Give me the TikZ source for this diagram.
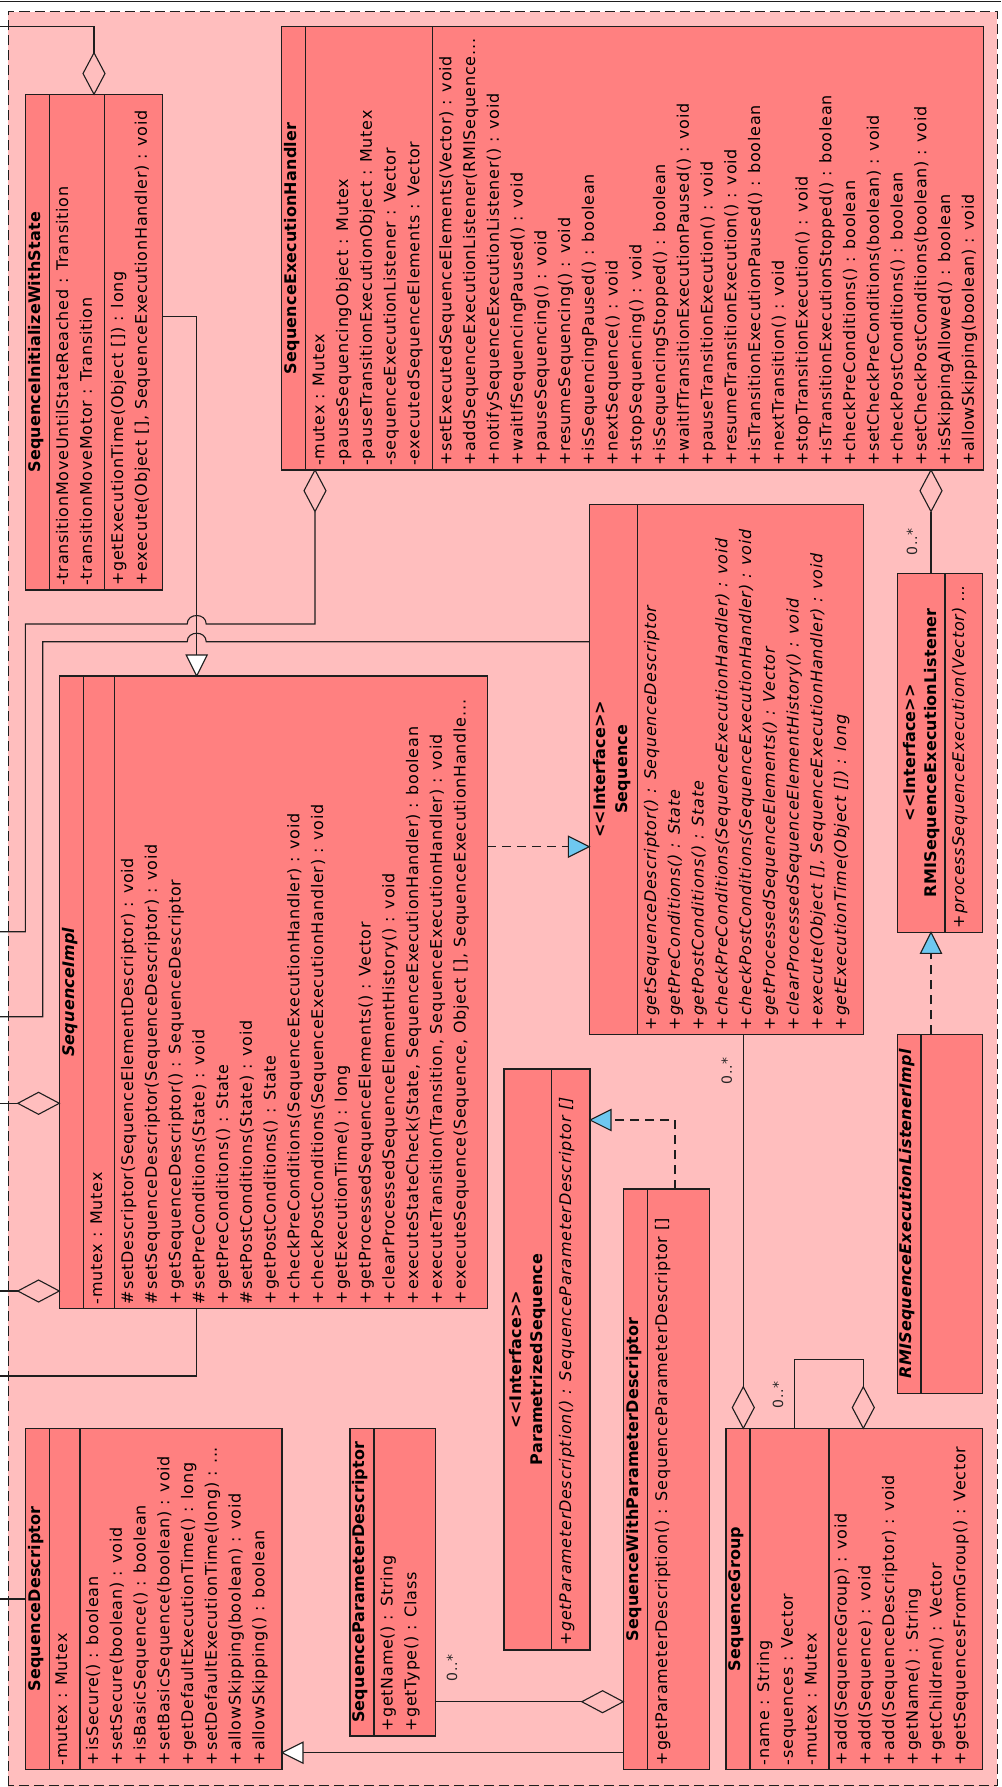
\documentclass[tikz,border=0pt]{standalone}
\usepackage{fontspec}
\setmainfont{DejaVu Sans}[LetterSpace=4.6]
\newfontfamily\namefont{DejaVu Sans}[LetterSpace=1]
\usetikzlibrary{fit}

\definecolor{pagebg}{RGB}{255,190,190}
\definecolor{classfill}{RGB}{255,128,128}
\definecolor{realfill}{RGB}{110,200,240}
\definecolor{inkline}{RGB}{30,30,30}

\newcommand\rowfont{\fontsize{16}{20}\selectfont}
\protected\def\ddd{...}

\tikzset{
  classbox/.style={draw=inkline, fill=classfill, line width=1.2pt, inner sep=0pt, outer sep=0pt},
  crow/.style={rotate=90, anchor=mid west, inner sep=0pt, font=\rowfont},
  ctitle/.style={rotate=90, anchor=mid, inner sep=0pt, font=\rowfont\namefont\bfseries},
  multlabel/.style={rotate=90, anchor=center, inner sep=0pt, font=\fontsize{14}{16}\selectfont, text=black!85},
  conn/.style={draw=inkline, line width=1.1pt},
  realize/.style={conn, dash pattern=on 9pt off 6pt},
  agg/.pic={\filldraw[draw=inkline, fill=pagebg, line width=1.1pt] (0,0) -- (-20.75,-11) -- (-41.5,0) -- (-20.75,11) -- cycle;},
  gen/.pic={\filldraw[draw=inkline, fill=white, line width=1.1pt] (0,0) -- (-21,-10.5) -- (-21,10.5) -- cycle;},
  impl/.pic={\filldraw[draw=inkline, fill=realfill, line width=1.1pt] (0,0) -- (-21,-10.5) -- (-21,10.5) -- cycle;},
}

% class box spanning left/top/right/bottom
\newcommand\umlbox[5]{\node[classbox, fit={(#2,#3) (#4,#5)}] (#1) {};}
% compartment divider at a given x
\newcommand\umldiv[2]{\draw[draw=inkline, line width=1.2pt] (#1.north -| #2,0) -- (#1.south -| #2,0);}
% rows of a compartment: prefix, first row centre x, text start y, extra keys, rows
\newcommand\umlrows[5]{\foreach \t [count=\i from 0] in {#5}{\node[crow, #4] (#1-\i) at ({#2+\i*23.75}, #3) {\t};}}

\begin{document}
\begin{tikzpicture}[x=1pt, y=-1pt]
\useasboundingbox (0,0) rectangle (1001,1787);
\fill[white] (0,0) rectangle (1001,1787);

% package frame
\fill[pagebg] (8.3,11.7) rectangle (997.3,1787);
\draw[inkline, line width=1.3pt, dash pattern=on 10pt off 5pt] (8.3,1785.5) -- (8.3,11.7) -- (997.3,11.7) -- (997.3,1785.5) -- cycle;
\draw[inkline, line width=1.3pt] (0,1.7) -- (1001,1.7);

% ---------- classes ----------
\umlbox{siws}{25.3}{94.3}{162.7}{590}
\umldiv{siws}{49.3}\umldiv{siws}{104.3}

\umlbox{seh}{281.7}{26.7}{983.3}{470}
\umldiv{seh}{305.7}\umldiv{seh}{432.7}

\umlbox{simpl}{59.3}{676}{487.3}{1308.3}
\umldiv{simpl}{83.3}\umldiv{simpl}{114.3}

\umlbox{seq}{589.3}{504.3}{863.3}{1034.3}
\umldiv{seq}{637.3}

\umlbox{rmil}{897.3}{573.3}{982.7}{932.3}
\umldiv{rmil}{945}

\umlbox{rmiimpl}{897.3}{1034.3}{982.7}{1393.3}
\umldiv{rmiimpl}{921}

\umlbox{psq}{504}{1069}{590}{1650}
\umldiv{psq}{551.7}

\umlbox{swpd}{623.3}{1189}{709.3}{1769.3}
\umldiv{swpd}{647.7}

\umlbox{sdesc}{25.3}{1428.3}{282}{1769.3}
\umldiv{sdesc}{49.3}\umldiv{sdesc}{80}

\umlbox{spd}{350}{1428.3}{435.7}{1736}
\umldiv{spd}{374}

\umlbox{sgroup}{726}{1428.3}{982.7}{1769.3}
\umldiv{sgroup}{750}\umldiv{sgroup}{829}

% ---------- connectors ----------
\coordinate (w1) at (0,26.7);
\coordinate (w3) at (0,931.7);
\coordinate (w4) at (0,1016.7);
\coordinate (w5) at (0,1103.3);
\coordinate (w6) at (0,1291);
\coordinate (w7) at (0,1376);
\coordinate (w15) at (0,1599);

% aggregation onto SequenceInitializeWithState
\coordinate (siws-agg) at ([yshift=41.5pt]siws.north);
\draw[conn] (w1) -| (siws-agg);
\pic[rotate=-90] at (siws.north) {agg};

% SequenceInitializeWithState extends SequenceImpl
\coordinate (siws-out) at (siws.east |- 0,316.7);
\coordinate (simpl-gen) at (simpl.north -| 196.7,0);
\coordinate (simpl-genbase) at ([yshift=21pt]simpl-gen);
\draw[conn] (siws-out) -| (simpl-genbase);
\pic[rotate=-90] at (simpl-gen) {gen};

% SequenceExecutionHandler aggregation leaving to the left
\coordinate (seh-a1) at (seh.south -| 315,0);
\draw[conn] ([yshift=-41.5pt]seh-a1) -- (315,624) -- (206.2,624)
  .. controls (206.2,612.7) and (187.2,612.7) .. (187.2,624)
  -- (25.3,624) -- (25.3,931.7) -- (w3);
\pic[rotate=90] at (seh-a1) {agg};

% Sequence association leaving to the left
\coordinate (seq-out) at (seq.west |- 0,641.7);
\draw[conn] (seq-out) -- (206.2,641.7)
  .. controls (206.2,630.4) and (187.2,630.4) .. (187.2,641.7)
  -- (42.7,641.7) -- (42.7,1016.7) -- (w4);

% aggregations onto SequenceImpl
\coordinate (simpl-a1) at (simpl.west |- w5);
\coordinate (simpl-a2) at (simpl.west |- w6);
\draw[conn] (w5) -- ([xshift=-41.5pt]simpl-a1);
\draw[conn] (w6) -- ([xshift=-41.5pt]simpl-a2);
\pic at (simpl-a1) {agg};
\pic at (simpl-a2) {agg};

% SequenceImpl association leaving to the left
\draw[conn] (simpl.south -| 196.7,0) |- (w7);

% SequenceImpl realizes Sequence
\coordinate (seq-real) at (seq.west |- 0,846.7);
\draw[realize] (simpl.east |- seq-real) -- ([xshift=-21pt]seq-real);
\pic at (seq-real) {impl};

% SequenceExecutionHandler aggregates listeners
\coordinate (seh-a2) at (seh.south -| 931,0);
\draw[conn] ([yshift=-41.5pt]seh-a2) -- (rmil.north -| seh-a2);
\pic[rotate=90] at (seh-a2) {agg};
\node[multlabel] (m1) at (912,541.7) {0..*};

% RMISequenceExecutionListenerImpl realizes the listener interface
\coordinate (rmil-real) at (rmil.south -| 931,0);
\draw[realize] (rmiimpl.north -| rmil-real) -- ([yshift=-21pt]rmil-real);
\pic[rotate=90] at (rmil-real) {impl};

% SequenceGroup aggregates Sequence
\coordinate (sg-a1) at (sgroup.north -| 743.3,0);
\draw[conn] (seq.south -| sg-a1) -- ([yshift=41.5pt]sg-a1);
\pic[rotate=-90] at (sg-a1) {agg};
\node[multlabel] (m2) at (726.7,1071) {0..*};

% SequenceGroup aggregates SequenceGroup
\coordinate (sg-a2) at (sgroup.north -| 863.3,0);
\coordinate (sg-self) at (sgroup.north -| 794.3,0);
\draw[conn] (sg-self) -- (794.3,1359.3) -| ([yshift=41.5pt]sg-a2);
\pic[rotate=-90] at (sg-a2) {agg};
\node[multlabel] (m3) at (778,1395) {0..*};

% SequenceWithParameterDescriptor realizes ParametrizedSequence
\coordinate (ps-real) at (psq.east |- 0,1120);
\draw[realize] (swpd.north -| 675,0) |- ([xshift=21pt]ps-real);
\pic[rotate=180] at (ps-real) {impl};

% SequenceWithParameterDescriptor extends SequenceDescriptor
\coordinate (sd-gen) at (sdesc.east |- 0,1752.7);
\draw[conn] (swpd.west |- sd-gen) -- ([xshift=21pt]sd-gen);
\pic[rotate=180] at (sd-gen) {gen};

% SequenceWithParameterDescriptor aggregates SequenceParameterDescriptor
\coordinate (swpd-agg) at (swpd.west |- 0,1701.7);
\draw[conn] (spd.east |- swpd-agg) -- ([xshift=-41.5pt]swpd-agg);
\pic at (swpd-agg) {agg};
\node[multlabel] (m4) at (452,1668) {0..*};

% association into SequenceDescriptor
\draw[conn] (w15) -- (sdesc.west |- w15);

% ---------- texts ----------
% SequenceInitializeWithState
\node[ctitle] (siws-n) at (37.3,342.2) {SequenceInitializeWithState};
\umlrows{siws-a}{65.3}{586}{}{-transitionMoveUntilStateReached : Transition, -transitionMoveMotor : Transition}
\umlrows{siws-m}{120.3}{586}{}{+getExecutionTime(Object []) : long, {+execute(Object [], SequenceExecutionHandler) : void}}

% SequenceExecutionHandler
\node[ctitle] (seh-n) at (293.7,248.4) {SequenceExecutionHandler};
\umlrows{seh-a}{321.7}{466}{}{-mutex : Mutex, -pauseSequencingObject : Mutex, -pauseTransitionExecutionObject : Mutex, -sequenceExecutionListener : Vector, -executedSequenceElements : Vector}
\umlrows{seh-m}{448.7}{466}{}{+setExecutedSequenceElements(Vector) : void, +addSequenceExecutionListener(RMISequence\ddd, +notifySequenceExecutionListener() : void, +waitIfSequencingPaused() : void, +pauseSequencing() : void, +resumeSequencing() : void, +isSequencingPaused() : boolean, +nextSequence() : void, +stopSequencing() : void, +isSequencingStopped() : boolean, +waitIfTransitionExecutionPaused() : void, +pauseTransitionExecution() : void, +resumeTransitionExecution() : void, +isTransitionExecutionPaused() : boolean, +nextTransition() : void, +stopTransitionExecution() : void, +isTransitionExecutionStopped() : boolean, +checkPreConditions() : boolean, +setCheckPreConditions(boolean) : void, +checkPostConditions() : boolean, +setCheckPostConditions(boolean) : void, +isSkippingAllowed() : boolean, +allowSkipping(boolean) : void}

% SequenceImpl
\node[ctitle, font=\rowfont\namefont\bfseries\itshape] (simpl-n) at (71.3,992.2) {SequenceImpl};
\umlrows{simpl-a}{99.3}{1304.3}{}{-mutex : Mutex}
\umlrows{simpl-m}{130.3}{1304.3}{}{\#setDescriptor(SequenceElementDescriptor) : void, \#setSequenceDescriptor(SequenceDescriptor) : void, +getSequenceDescriptor() : SequenceDescriptor, \#setPreConditions(State) : void, +getPreConditions() : State, \#setPostConditions(State) : void, +getPostConditions() : State, +checkPreConditions(SequenceExecutionHandler) : void, +checkPostConditions(SequenceExecutionHandler) : void, +getExecutionTime() : long, +getProcessedSequenceElements() : Vector, +clearProcessedSequenceElementHistory() : void, {+executeStateCheck(State, SequenceExecutionHandler) : boolean}, {+executeTransition(Transition, SequenceExecutionHandler) : void}, {+executeSequence(Sequence, Object [], SequenceExecutionHandle\ddd}}

% Sequence (interface)
\node[ctitle] (seq-s) at (603,769.3) {<\kern0pt<Interface>\kern0pt>};
\node[ctitle] (seq-n) at (624.5,769.3) {Sequence};
\umlrows{seq-m}{653.3}{1030.3}{font=\rowfont\itshape}{+getSequenceDescriptor() : SequenceDescriptor, +getPreConditions() : State, +getPostConditions() : State, +checkPreConditions(SequenceExecutionHandler) : void, +checkPostConditions(SequenceExecutionHandler) : void, +getProcessedSequenceElements() : Vector, +clearProcessedSequenceElementHistory() : void, {+execute(Object [], SequenceExecutionHandler) : void}, +getExecutionTime(Object []) : long}

% RMISequenceExecutionListener (interface)
\node[ctitle] (rmil-s) at (912.3,752.8) {<\kern0pt<Interface>\kern0pt>};
\node[ctitle] (rmil-n) at (933.3,752.8) {RMISequenceExecutionListener};
\umlrows{rmil-m}{961.5}{928.3}{font=\rowfont\itshape}{+processSequenceExecution(Vector) \ddd}

% RMISequenceExecutionListenerImpl
\node[ctitle, font=\rowfont\namefont\bfseries\itshape] (rmiimpl-n) at (909.2,1213.8) {RMISequenceExecutionListenerImpl};

% ParametrizedSequence (interface)
\node[ctitle] (psq-s) at (518.5,1359.5) {<\kern0pt<Interface>\kern0pt>};
\node[ctitle] (psq-n) at (539.5,1359.5) {ParametrizedSequence};
\umlrows{psq-m}{568.5}{1646}{font=\rowfont\itshape}{+getParameterDescription() : SequenceParameterDescriptor []}

% SequenceWithParameterDescriptor
\node[ctitle] (swpd-n) at (635.5,1479.2) {SequenceWithParameterDescriptor};
\umlrows{swpd-m}{664.5}{1765.3}{}{+getParameterDescription() : SequenceParameterDescriptor []}

% SequenceDescriptor
\node[ctitle] (sdesc-n) at (37.3,1598.8) {SequenceDescriptor};
\umlrows{sdesc-a}{64.5}{1765.3}{}{-mutex : Mutex}
\umlrows{sdesc-m}{95.5}{1765.3}{}{+isSecure() : boolean, +setSecure(boolean) : void, +isBasicSequence() : boolean, +setBasicSequence(boolean) : void, +getDefaultExecutionTime() : long, +setDefaultExecutionTime(long) : \ddd, +allowSkipping(boolean) : void, +allowSkipping() : boolean}

% SequenceParameterDescriptor
\node[ctitle] (spd-n) at (362,1582.2) {SequenceParameterDescriptor};
\umlrows{spd-m}{390}{1732}{}{+getName() : String, +getType() : Class}

% SequenceGroup
\node[ctitle] (sgroup-n) at (738,1598.8) {SequenceGroup};
\umlrows{sgroup-a}{766.3}{1765.3}{}{-name : String, -sequences : Vector, -mutex : Mutex}
\umlrows{sgroup-m}{844}{1765.3}{}{+add(SequenceGroup) : void, +add(Sequence) : void, +add(SequenceDescriptor) : void, +getName() : String, +getChildren() : Vector, +getSequencesFromGroup() : Vector}
\end{tikzpicture}
\end{document}
